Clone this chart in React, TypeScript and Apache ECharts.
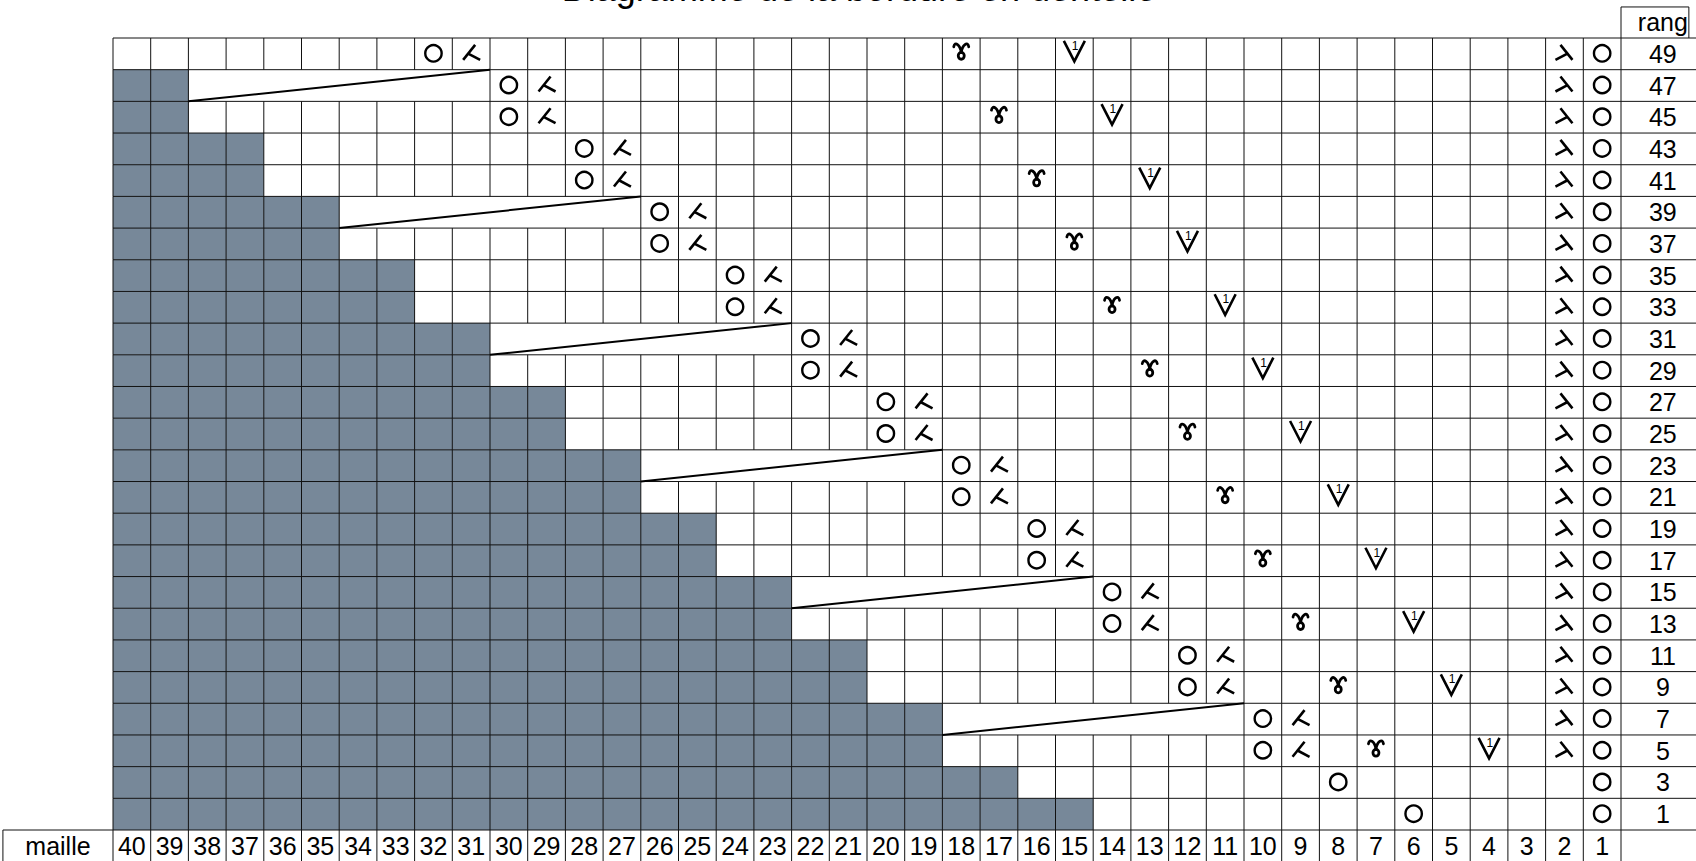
import React, { useEffect, useRef } from "react";
import * as echarts from "echarts";

// ---- data ----
const titleText = "Diagramme de la bordure en dentelle";
const rowHeader = "rang";
const stitchHeader = "maille";
// stitch numbers, left to right
const stitchNumbers = [40, 39, 38, 37, 36, 35, 34, 33, 32, 31, 30, 29, 28, 27, 26, 25, 24, 23, 22, 21, 20, 19, 18, 17, 16, 15, 14, 13, 12, 11, 10, 9, 8, 7, 6, 5, 4, 3, 2, 1];
// row numbers, bottom to top
const rowNumbers = [1, 3, 5, 7, 9, 11, 13, 15, 17, 19, 21, 23, 25, 27, 29, 31, 33, 35, 37, 39, 41, 43, 45, 47, 49];
// number of "no stitch" (grey) cells from the left, per row
const greyCells = [26, 24, 22, 22, 20, 20, 18, 18, 16, 16, 14, 14, 12, 12, 10, 10, 8, 8, 6, 6, 4, 4, 2, 2, 0];
// symbol positions (stitch number) per row, null = none
const yarnOverStitch = [6, 8, 10, 10, 12, 12, 14, 14, 16, 16, 18, 18, 20, 20, 22, 22, 24, 24, 26, 26, 28, 28, 30, 30, 32];
const k2togStitch = [null, null, 9, 9, 11, 11, 13, 13, 15, 15, 17, 17, 19, 19, 21, 21, 23, 23, 25, 25, 27, 27, 29, 29, 31];
const ramsHornStitch = [null, null, 7, null, 8, null, 9, null, 10, null, 11, null, 12, null, 13, null, 14, null, 15, null, 16, null, 17, null, 18];
const slipStitch = [null, null, 4, null, 5, null, 6, null, 7, null, 8, null, 9, null, 10, null, 11, null, 12, null, 13, null, 14, null, 15];
const edgeDecreaseStitch = [null, null, 2, 2, 2, 2, 2, 2, 2, 2, 2, 2, 2, 2, 2, 2, 2, 2, 2, 2, 2, 2, 2, 2, 2];
const edgeYarnOverStitch = [1, 1, 1, 1, 1, 1, 1, 1, 1, 1, 1, 1, 1, 1, 1, 1, 1, 1, 1, 1, 1, 1, 1, 1, 1];
// short rows: merged blank span
const shortRowRanks = [7, 15, 23, 31, 39, 47];
const shortRowFirstStitch = [18, 22, 26, 30, 34, 38];
const shortRowLastStitch = [11, 15, 19, 23, 27, 31];

// ---- layout (in axis units) ----
const NCOL = stitchNumbers.length;
const NROW = rowNumbers.length;
const RANG_W = 1.8;
const RANG_CX = 41.11;
const RIGHT_EXT = 42.4;
const LABEL_W = 2.92;
const HEADER_H = 0.98;

const colOf = (s: number) => stitchNumbers.indexOf(s);

function buildData() {
  const grey: number[][] = [];
  greyCells.forEach((n, k) => {
    for (let c = 0; c < n; c++) grey.push([c, k]);
  });
  const merged: number[][] = shortRowRanks.map((r, i) => [
    colOf(shortRowFirstStitch[i]),
    rowNumbers.indexOf(r),
    colOf(shortRowLastStitch[i]) + 1,
  ]);
  const segs: number[][] = [];
  for (let k = 0; k <= NROW; k++) segs.push([k === 0 ? -LABEL_W : 0, k, RIGHT_EXT, k]);
  segs.push([-LABEL_W, -1, NCOL, -1]);
  for (let k = 0; k < NROW; k++) {
    const m = merged.find((mm) => mm[1] === k);
    for (let b = 0; b <= NCOL; b++) {
      if (m && b > m[0] && b < m[2]) continue;
      segs.push([b, k, b, k + 1]);
    }
  }
  segs.push([-LABEL_W, -1, -LABEL_W, 0]);
  for (let b = 0; b <= NCOL; b++) segs.push([b, -1, b, 0]);
  segs.push([NCOL, NROW, NCOL, NROW + HEADER_H]);
  segs.push([NCOL, NROW + HEADER_H, NCOL + RANG_W, NROW + HEADER_H]);
  segs.push([NCOL + RANG_W, NROW + HEADER_H, NCOL + RANG_W, NROW]);

  const symbols: number[][] = [];
  const add = (arr: (number | null)[], type: number) =>
    arr.forEach((s, k) => {
      if (s != null) symbols.push([colOf(s) + 0.5, k + 0.5, type]);
    });
  add(yarnOverStitch, 0);
  add(edgeYarnOverStitch, 0);
  add(k2togStitch, 1);
  add(edgeDecreaseStitch, 2);
  add(ramsHornStitch, 3);
  add(slipStitch, 4);

  const labels: number[][] = [];
  const labelTexts: string[] = [];
  stitchNumbers.forEach((s, c) => {
    labels.push([c + 0.5, -0.5]);
    labelTexts.push(String(s));
  });
  rowNumbers.forEach((r, k) => {
    labels.push([RANG_CX, k + 0.5]);
    labelTexts.push(String(r));
  });
  labels.push([RANG_CX, NROW + HEADER_H / 2]);
  labelTexts.push(rowHeader);
  labels.push([-LABEL_W / 2, -0.5]);
  labelTexts.push(stitchHeader);
  return { grey, merged, segs, symbols, labels, labelTexts };
}

export default function App() {
  const ref = useRef<HTMLDivElement>(null);
  useEffect(() => {
    if (!ref.current) return;
    const chart = echarts.init(ref.current, undefined, { renderer: "svg" });
    const { grey, merged, segs, symbols, labels, labelTexts } = buildData();
    const black = "#000";
    const option: any = {
      animation: false,
      backgroundColor: "#fff",
      grid: { left: 113, top: 38, width: 1508, height: 792 },
      xAxis: { type: "value", min: 0, max: NCOL, show: false },
      yAxis: { type: "value", min: 0, max: NROW, show: false },
      graphic: [
        {
          type: "text",
          x: 859,
          y: -11.5,
          style: {
            text: titleText,
            fontSize: 36,
            fontFamily: "Liberation Sans",
            fill: black,
            align: "center",
            verticalAlign: "middle",
          },
        },
      ],
      series: [
        {
          type: "custom",
          name: "grey",
          clip: false,
          z: 1,
          data: grey,
          renderItem: (p: any, api: any) => {
            const a = api.coord([api.value(0), api.value(1) + 1]);
            const b = api.coord([api.value(0) + 1, api.value(1)]);
            return {
              type: "rect",
              shape: { x: a[0], y: a[1], width: b[0] - a[0], height: b[1] - a[1] },
              style: { fill: "#778899", stroke: "none" },
            };
          },
        },
        {
          type: "custom",
          name: "grid",
          clip: false,
          z: 2,
          data: segs,
          renderItem: (p: any, api: any) => {
            const a = api.coord([api.value(0), api.value(1)]);
            const b = api.coord([api.value(2), api.value(3)]);
            return {
              type: "line",
              shape: { x1: a[0], y1: a[1], x2: b[0], y2: b[1] },
              style: { stroke: "#111", lineWidth: 1, fill: "none" },
            };
          },
        },
        {
          type: "custom",
          name: "shortRows",
          clip: false,
          z: 3,
          data: merged,
          renderItem: (p: any, api: any) => {
            const a = api.coord([api.value(0), api.value(1)]);
            const b = api.coord([api.value(2), api.value(1) + 1]);
            return {
              type: "line",
              shape: { x1: a[0], y1: a[1], x2: b[0], y2: b[1] },
              style: { stroke: black, lineWidth: 2, fill: "none" },
            };
          },
        },
        {
          type: "custom",
          name: "symbols",
          clip: false,
          z: 4,
          data: symbols,
          renderItem: (p: any, api: any) => {
            const c = api.coord([api.value(0), api.value(1)]);
            const cx = c[0];
            const cy = c[1];
            const t = api.value(2);
            const st = { stroke: black, lineWidth: 2.6, fill: "none", lineCap: "butt" };
            if (t === 0) {
              return { type: "circle", shape: { cx, cy: cy - 0.5, r: 8.2 }, style: { stroke: black, lineWidth: 2.4, fill: "none" } };
            }
            if (t === 1 || t === 2) {
              const m = t === 1 ? 1 : -1;
              return {
                type: "group",
                children: [
                  { type: "line", shape: { x1: cx - 8 * m, y1: cy + 6, x2: cx + 4 * m, y2: cy - 9 }, style: st },
                  { type: "line", shape: { x1: cx - 3 * m, y1: cy - 0.3, x2: cx + 9 * m, y2: cy + 6 }, style: st },
                ],
              };
            }
            if (t === 3) {
              const hs = { stroke: black, lineWidth: 2.8, fill: "none", lineCap: "round" };
              return {
                type: "group",
                children: [
                  {
                    type: "bezierCurve",
                    shape: { x1: cx - 7.5, y1: cy - 7, cpx1: cx - 6.5, cpy1: cy - 13, cpx2: cx - 1, cpy2: cy - 9, x2: cx, y2: cy - 1.5 },
                    style: hs,
                  },
                  {
                    type: "bezierCurve",
                    shape: { x1: cx + 7.5, y1: cy - 7, cpx1: cx + 6.5, cpy1: cy - 13, cpx2: cx + 1, cpy2: cy - 9, x2: cx, y2: cy - 1.5 },
                    style: hs,
                  },
                  { type: "ellipse", shape: { cx, cy: cy + 2, rx: 3, ry: 3.4 }, style: hs },
                ],
              };
            }
            return {
              type: "group",
              children: [
                {
                  type: "polyline",
                  shape: { points: [[cx - 10.5, cy - 13], [cx, cy + 7.5], [cx + 10.5, cy - 13]] },
                  style: { stroke: black, lineWidth: 2.6, fill: "none", lineJoin: "miter" },
                },
                {
                  type: "text",
                  x: cx + 0.8,
                  y: cy - 8,
                  style: { text: "1", fontSize: 12, fontFamily: "Liberation Sans", fill: black, align: "center", verticalAlign: "middle" },
                },
              ],
            };
          },
        },
        {
          type: "custom",
          name: "labels",
          clip: false,
          z: 5,
          data: labels,
          renderItem: (p: any, api: any) => {
            const c = api.coord([api.value(0), api.value(1)]);
            return {
              type: "text",
              x: c[0],
              y: c[1],
              style: {
                text: labelTexts[p.dataIndex],
                fontSize: 25,
                fontFamily: "Liberation Sans",
                fill: black,
                align: "center",
                verticalAlign: "middle",
              },
            };
          },
        },
      ],
    };
    chart.setOption(option);
    return () => chart.dispose();
  }, []);
  return (
    <div
      ref={ref}
      style={{ position: "fixed", left: 0, top: 0, width: 1696, height: 861, background: "#fff" }}
    />
  );
}
